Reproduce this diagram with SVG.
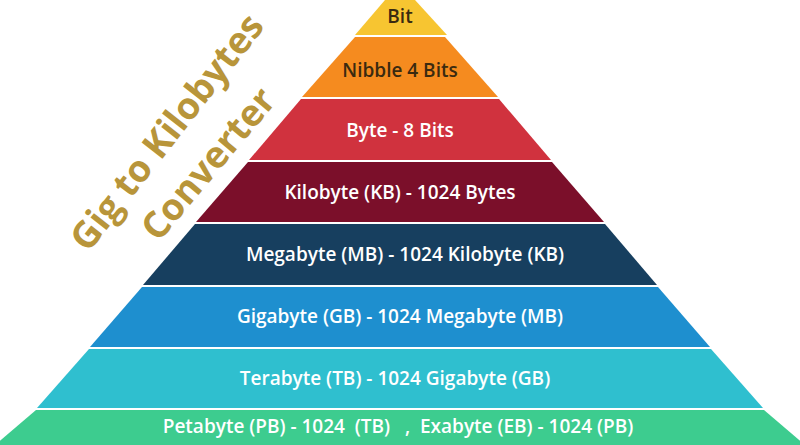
<svg xmlns="http://www.w3.org/2000/svg" width="800" height="445" viewBox="0 0 800 445">
<style>
.l{font-family:"Open Sans","Liberation Sans",sans-serif;font-size:19px;font-weight:600;fill:#fff;text-anchor:middle}
.d{fill:#3a2a10}
.t{font-family:"Open Sans","Liberation Sans",sans-serif;font-weight:bold;font-size:37px;fill:#b8953a;text-anchor:middle}
</style>
<rect width="800" height="445" fill="#fff"/>
<g id="bit"><polygon points="385,0 415,0 447,35 355,35" fill="#f7c531"/><text class="l d" x="400" y="23">Bit</text></g>
<g id="nibble"><polygon points="355,37 445,37 498,97 302,97" fill="#f58b1f"/><text class="l d" x="400" y="77">Nibble 4 Bits</text></g>
<g id="byte"><polygon points="301,99 499,99 551,160 249,160" fill="#d0323e"/><text class="l" x="400" y="137">Byte - 8 Bits</text></g>
<g id="kb"><polygon points="248,162 552,162 604,222 196,222" fill="#7b0f2a"/><text class="l" x="400" y="199">Kilobyte (KB) - 1024 Bytes</text></g>
<g id="mb"><polygon points="195,224 605,224 657,285 143,285" fill="#173f5f"/><text class="l" x="405" y="261">Megabyte (MB) - 1024 Kilobyte (KB)</text></g>
<g id="gb"><polygon points="142,287 658,287 710,347 90,347" fill="#1e8fcf"/><text class="l" x="400" y="323">Gigabyte (GB) - 1024 Megabyte (MB)</text></g>
<g id="tb"><polygon points="89,349 711,349 763,408 37,408" fill="#2fbfcf"/><text class="l" x="395" y="385">Terabyte (TB) - 1024 Gigabyte (GB)</text></g>
<g id="pb"><polygon points="36,410 764,410 805,445 -5,445" fill="#3dcc8f"/><text class="l" x="398" y="433" xml:space="preserve">Petabyte (PB) - 1024  (TB)   ,  Exabyte (EB) - 1024 (PB)</text></g>
<g id="title">
<text class="t" transform="translate(177,140) rotate(-52)">Gig to Kilobytes</text>
<text class="t" transform="translate(218,172) rotate(-50)">Converter</text>
</g>
</svg>
